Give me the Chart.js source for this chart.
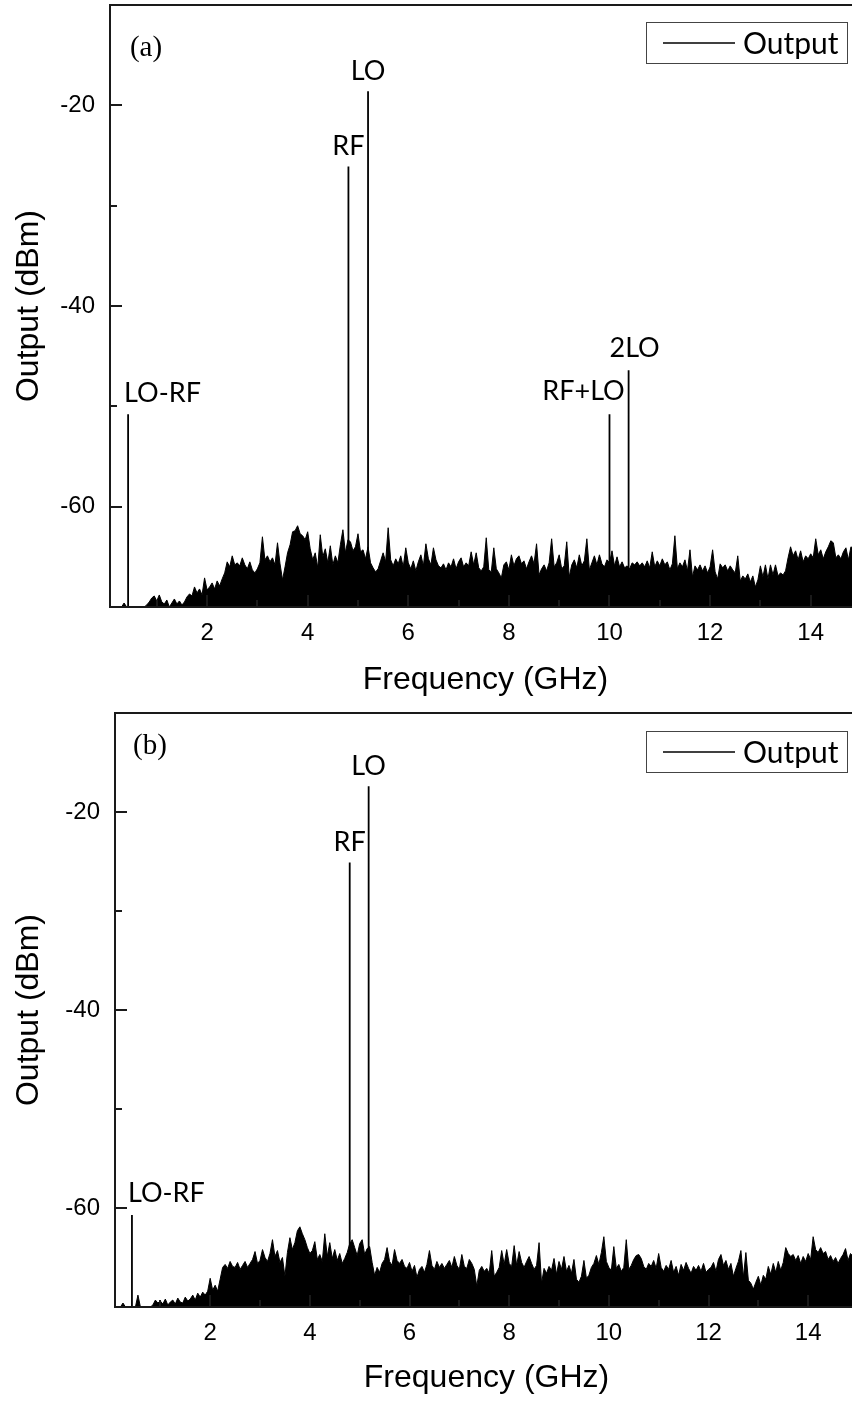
<!DOCTYPE html>
<html>
<head>
<meta charset="utf-8">
<title>Mixer output spectrum</title>
<script src="https://cdn.jsdelivr.net/npm/chart.js@4.4.0/dist/chart.umd.min.js"></script>
<style>
  html, body { margin: 0; padding: 0; background: #fff; overflow: hidden; }
  body { width: 852px; height: 1401px; position: relative; }
  .panel { position: absolute; left: 0; }
  #panel-a { top: 0; }
  #panel-b { top: 700px; }
</style>
</head>
<body>
<canvas id="panel-a" class="panel" width="862" height="700"></canvas>
<canvas id="panel-b" class="panel" width="862" height="701"></canvas>
<script>
// Noise floor levels (dBm), one value every 0.05 GHz starting at 0.05 GHz
const NOISE_START = 0.05;
const NOISE_STEP = 0.05;

const noiseA = [
  -70, -70, -70, -70, -70, -70, -69.6, -70, -70, -70, -70, -70, -70, -70, -70, -69.8, -69.5, -69.1, -68.9, -69.4,
  -68.8, -69.5, -69.7, -69.3, -70, -69.6, -69.2, -69.7, -69.4, -69.8, -69.5, -69.0, -68.7, -68.9, -68.0, -68.6, -68.2, -68.8, -67.1, -68.3,
  -68.0, -67.6, -68.2, -67.4, -67.9, -67.2, -66.6, -65.5, -66.0, -64.9, -65.8, -65.6, -65.9, -65.1, -65.8, -66.2, -65.5, -66.3, -66.6, -66.2,
  -65.6, -63.0, -65.3, -64.9, -65.5, -65.1, -65.8, -63.6, -65.7, -67.3, -66.0, -64.6, -63.8, -62.5, -62.4, -61.9, -62.7, -62.9, -63.3, -62.5,
  -64.2, -65.3, -64.6, -66.1, -62.8, -65.0, -64.2, -65.6, -63.9, -65.8, -64.9, -65.6, -63.8, -62.3, -64.6, -63.3, -63.5, -64.4, -64.0, -62.7,
  -64.5, -64.3, -65.2, -64.0, -65.6, -66.1, -66.5, -66.2, -65.4, -64.6, -65.5, -62.1, -65.3, -65.9, -65.2, -65.7, -64.9, -66.0, -64.1, -65.6,
  -66.2, -65.4, -66.4, -65.5, -64.8, -65.9, -63.7, -65.2, -65.8, -64.1, -65.3, -65.9, -66.1, -65.7, -66.3, -65.6, -66.0, -65.2, -66.2, -65.5,
  -65.1, -66.0, -65.6, -65.9, -64.5, -65.8, -64.6, -66.1, -66.4, -66.0, -63.1, -66.3, -66.5, -64.1, -66.2, -66.6, -67.1, -65.8, -65.5, -66.3,
  -64.8, -65.9, -65.2, -64.9, -65.7, -65.4, -66.2, -65.5, -64.9, -65.7, -63.7, -66.8, -66.2, -65.8, -66.4, -65.6, -63.2, -66.0, -65.6, -64.8,
  -66.2, -65.9, -63.5, -67.0, -65.8, -65.3, -66.1, -64.8, -65.9, -65.4, -63.2, -66.3, -65.6, -64.9, -65.8, -64.8, -65.7, -66.0, -65.3, -65.6,
  -64.4, -65.9, -65.0, -66.0, -65.5, -66.1, -65.9, -66.2, -65.6, -65.8, -65.5, -65.9, -65.6, -66.0, -65.4, -66.1, -64.5, -66.0, -65.4, -65.9,
  -65.2, -65.8, -65.5, -66.3, -65.7, -62.9, -66.2, -65.6, -66.0, -65.3, -66.4, -64.3, -67.0, -65.9, -66.3, -65.8, -66.4, -65.9, -66.6, -66.0,
  -64.3, -66.5, -67.2, -65.7, -66.1, -65.8, -66.4, -65.9, -66.3, -66.6, -64.9, -67.4, -66.9, -67.2, -66.7, -67.5, -66.9, -68.0, -67.3, -65.9,
  -67.0, -65.8, -67.2, -65.8, -66.8, -65.8, -66.9, -66.6, -66.8, -66.4, -65.1, -64.0, -64.9, -64.4, -65.3, -64.4, -65.5, -64.9, -65.2, -64.7,
  -65.1, -63.2, -64.8, -64.3, -65.2, -64.5, -64.0, -63.4, -63.6, -65.1, -64.8, -65.2, -64.5, -64.1, -65.3, -64.0, -64.2, -65.0, -64.6, -64.8
];

const noiseB = [
  -70, -70, -70, -70, -69.6, -70, -70, -70, -70, -70, -68.8, -70, -70, -70, -70, -70, -69.8, -69.3, -69.6, -69.4,
  -69.7, -69.2, -69.8, -69.5, -69.3, -69.7, -69.1, -69.5, -69.6, -69.0, -69.4, -69.2, -68.8, -69.3, -68.6, -69.0, -68.5, -68.8, -68.4, -67.1,
  -68.3, -67.8, -68.4, -67.2, -66.0, -65.7, -66.1, -65.4, -65.9, -66.0, -65.5, -66.2, -65.8, -65.4, -66.0, -65.6, -65.2, -64.4, -65.6, -65.3,
  -64.2, -65.0, -65.4, -64.6, -63.2, -64.9, -64.3, -65.5, -65.0, -66.9, -64.5, -63.0, -64.2, -63.5, -62.3, -61.9, -62.6, -63.2, -64.0, -64.6,
  -64.3, -63.4, -65.2, -64.7, -65.4, -62.6, -64.9, -63.5, -65.1, -64.2, -65.3, -64.6, -65.6, -65.1, -64.5, -63.6, -63.2, -64.0, -64.8, -63.6,
  -63.2, -64.7, -64.1, -63.9, -65.5, -66.8, -66.0, -66.5, -65.6, -65.2, -64.0, -65.4, -65.8, -64.2, -65.3, -65.6, -65.2, -65.9, -66.1, -65.5,
  -66.4, -65.8, -67.0, -66.2, -65.9, -66.5, -65.7, -64.3, -65.8, -66.2, -65.4, -66.0, -65.6, -66.1, -65.7, -65.3, -66.0, -64.9, -65.8, -66.2,
  -64.7, -65.9, -66.1, -65.2, -65.6, -66.2, -67.9, -66.3, -65.9, -66.4, -66.1, -66.6, -64.3, -66.9, -66.5, -66.0, -64.3, -65.7, -64.2, -65.6,
  -65.9, -63.8, -65.8, -64.4, -65.5, -66.0, -65.4, -64.9, -65.6, -66.2, -65.8, -63.5, -67.6, -66.1, -66.6, -65.9, -66.3, -65.1, -66.7, -65.4,
  -66.2, -64.9, -66.4, -65.8, -66.6, -65.2, -67.2, -67.5, -66.9, -65.3, -67.1, -66.8, -66.0, -65.6, -64.8, -65.7, -64.5, -62.9, -65.4, -66.0,
  -66.3, -63.9, -66.1, -65.7, -66.4, -66.0, -63.2, -66.2, -65.8, -65.2, -64.8, -64.7, -65.1, -65.9, -66.2, -65.6, -65.9, -65.3, -66.1, -64.6,
  -66.0, -66.4, -65.8, -66.2, -65.3, -66.5, -65.9, -66.8, -65.7, -66.3, -65.5, -66.1, -66.6, -65.9, -66.3, -65.8, -66.4, -65.6, -66.5, -66.2,
  -66.0, -65.5, -66.4, -65.2, -64.7, -65.8, -65.3, -66.2, -65.6, -66.9, -66.1, -65.4, -64.3, -67.0, -64.5, -67.3, -67.6, -68.2, -67.5, -66.9,
  -67.8, -66.8, -67.2, -65.9, -66.7, -65.6, -66.5, -65.4, -66.3, -65.5, -64.0, -64.6, -64.9, -64.7, -65.3, -64.8, -65.6, -64.9, -65.4, -64.6,
  -65.2, -62.9, -64.2, -64.5, -64.0, -64.6, -64.4, -65.2, -64.8, -65.4, -65.0, -65.6, -65.1, -64.7, -64.1, -65.3, -64.6, -64.9, -64.4, -64.8
];

// Mixing products (tones)
const toneNamesA = ["LO-RF", "RF", "LO", "RF+LO", "2LO"];
const toneFreqA = [0.43, 4.81, 5.2, 10.0, 10.38];
const toneLevelA = [-50.8, -26.1, -18.6, -50.8, -46.4];

const toneNamesB = ["LO-RF", "RF", "LO"];
const toneFreqB = [0.43, 4.8, 5.18];
const toneLevelB = [-60.7, -25.1, -17.4];

// Axes
const X_MAX = 15;
const Y_MIN = -70;
const Y_MAX = -10;
const xTicks = [2, 4, 6, 8, 10, 12, 14];
const xMinorTicks = [1, 3, 5, 7, 9, 11, 13];
const yTicks = [-20, -40, -60];
const yMinorTicks = [-30, -50];

const SANS = '"Liberation Sans", Arial, sans-serif';
const LABEL_FONT = 'Lato, "Open Sans", sans-serif';

function noisePoints(levels) {
  return levels.map((v, i) => ({ x: +(NOISE_START + i * NOISE_STEP).toFixed(2), y: v }));
}

// each tone is a vertical stroke from the floor of the plot, separated by gaps
function tonePoints(freqs, levels) {
  const pts = [];
  freqs.forEach((f, i) => {
    pts.push({ x: f, y: Y_MIN }, { x: f, y: levels[i] }, { x: f, y: null });
  });
  return pts;
}

// frame, inward ticks, tone labels, panel tag and boxed legend
const spectrumDecor = {
  id: "spectrumDecor",
  afterDatasetsDraw(chart, args, opts) {
    const { ctx, chartArea: a, scales: { x, y } } = chart;
    ctx.save();

    ctx.strokeStyle = "#1a1a1a";
    ctx.lineWidth = 2;
    ctx.strokeRect(a.left, a.top, a.right - a.left, a.bottom - a.top);

    ctx.beginPath();
    yTicks.forEach((v) => {
      const py = Math.round(y.getPixelForValue(v));
      ctx.moveTo(a.left, py);
      ctx.lineTo(a.left + 12, py);
    });
    yMinorTicks.forEach((v) => {
      const py = Math.round(y.getPixelForValue(v));
      ctx.moveTo(a.left, py);
      ctx.lineTo(a.left + 7, py);
    });
    xTicks.forEach((v) => {
      const px = Math.round(x.getPixelForValue(v));
      ctx.moveTo(px, a.bottom);
      ctx.lineTo(px, a.bottom - 12);
    });
    xMinorTicks.forEach((v) => {
      const px = Math.round(x.getPixelForValue(v));
      ctx.moveTo(px, a.bottom);
      ctx.lineTo(px, a.bottom - 7);
    });
    ctx.stroke();

    // tone names above each stroke
    ctx.fillStyle = "#000";
    ctx.font = "27px " + LABEL_FONT;
    ctx.textBaseline = "middle";
    opts.names.forEach((name, i) => {
      const p = opts.place[i];
      ctx.textAlign = p.align;
      ctx.fillText(
        name,
        x.getPixelForValue(opts.freqs[i]) + p.dx,
        y.getPixelForValue(opts.levels[i]) + p.dy
      );
    });

    // panel tag
    ctx.font = '29px "Liberation Serif", "Times New Roman", serif';
    ctx.textAlign = "center";
    ctx.fillText(opts.tag, a.left + opts.tagDx, a.top + opts.tagDy);

    // legend box
    const bw = 201, bh = 41;
    const bx = a.right - opts.legendRight - bw;
    const by = a.top + opts.legendTop;
    ctx.lineWidth = 1;
    ctx.strokeStyle = "#444";
    ctx.strokeRect(bx + 0.5, by + 0.5, bw, bh);
    const cy = by + bh / 2 + 0.5;
    ctx.beginPath();
    ctx.lineWidth = 1.5;
    ctx.strokeStyle = "#000";
    ctx.moveTo(bx + 17, cy);
    ctx.lineTo(bx + 89, cy);
    ctx.stroke();
    ctx.font = "30px " + LABEL_FONT;
    ctx.textAlign = "left";
    ctx.fillText(chart.data.datasets[0].label, bx + 97, cy + 1);

    ctx.restore();
  },
};

function makeChart(id, cfg) {
  return new Chart(document.getElementById(id), {
    type: "line",
    data: {
      datasets: [
        {
          label: "Output",
          data: noisePoints(cfg.noise),
          borderColor: "#000",
          backgroundColor: "#000",
          borderWidth: 1,
          fill: "start",
          pointRadius: 0,
          tension: 0,
        },
        {
          label: "Output",
          data: tonePoints(cfg.freqs, cfg.levels),
          borderColor: "#000",
          borderWidth: 1.8,
          fill: false,
          pointRadius: 0,
          spanGaps: false,
        },
      ],
    },
    options: {
      responsive: false,
      animation: false,
      events: [],
      layout: { padding: cfg.padding },
      plugins: {
        legend: { display: false },
        tooltip: { enabled: false },
        spectrumDecor: {
          names: cfg.names,
          freqs: cfg.freqs,
          levels: cfg.levels,
          place: cfg.place,
          tag: cfg.tag,
          tagDx: cfg.tagDx,
          tagDy: cfg.tagDy,
          legendRight: cfg.legendRight,
          legendTop: cfg.legendTop,
        },
      },
      scales: {
        x: {
          type: "linear",
          min: cfg.xMin,
          max: X_MAX,
          grid: { display: false, drawTicks: false },
          border: { display: false },
          afterBuildTicks: (s) => {
            s.ticks = xTicks.map((v) => ({ value: v }));
          },
          afterFit: (s) => {
            s.height = cfg.xAxisHeight;
            s.paddingLeft = 0;
            s.paddingRight = 0;
          },
          ticks: {
            autoSkip: false,
            maxRotation: 0,
            padding: 12,
            color: "#000",
            font: { family: SANS, size: 24 },
          },
          title: {
            display: true,
            text: "Frequency (GHz)",
            color: "#000",
            font: { family: SANS, size: 32 },
            padding: { top: 0, bottom: cfg.xTitlePad },
          },
        },
        y: {
          type: "linear",
          min: Y_MIN,
          max: Y_MAX,
          grid: { display: false, drawTicks: false },
          border: { display: false },
          afterBuildTicks: (s) => {
            s.ticks = yTicks.map((v) => ({ value: v }));
          },
          afterFit: (s) => {
            s.width = cfg.yAxisWidth;
            s.paddingTop = 0;
            s.paddingBottom = 0;
          },
          ticks: {
            padding: 15,
            color: "#000",
            font: { family: SANS, size: 24 },
          },
          title: {
            display: true,
            text: "Output (dBm)",
            color: "#000",
            font: { family: SANS, size: 32 },
            padding: { top: 10, bottom: 0 },
          },
        },
      },
    },
    plugins: [spectrumDecor],
  });
}

makeChart("panel-a", {
  noise: noiseA,
  names: toneNamesA,
  freqs: toneFreqA,
  levels: toneLevelA,
  place: [
    { align: "left", dx: -4, dy: -21 },
    { align: "center", dx: 0, dy: -20 },
    { align: "center", dx: 0, dy: -20 },
    { align: "center", dx: -26, dy: -23 },
    { align: "center", dx: 6, dy: -22 },
  ],
  tag: "(a)",
  tagDx: 36,
  tagDy: 43,
  legendRight: 14,
  legendTop: 17,
  xMin: 0.07,
  padding: { top: 5, right: 1, bottom: 0, left: 0 },
  xAxisHeight: 93,
  yAxisWidth: 110,
  xTitlePad: 1,
});

makeChart("panel-b", {
  noise: noiseB,
  names: toneNamesB,
  freqs: toneFreqB,
  levels: toneLevelB,
  place: [
    { align: "left", dx: -4, dy: -22 },
    { align: "center", dx: 0, dy: -20 },
    { align: "center", dx: 0, dy: -20 },
  ],
  tag: "(b)",
  tagDx: 35,
  tagDy: 33,
  legendRight: 11,
  legendTop: 18,
  xMin: 0.09,
  padding: { top: 13, right: 4, bottom: 0, left: 0 },
  xAxisHeight: 94,
  yAxisWidth: 115,
  xTitlePad: 4,
});
</script>
</body>
</html>
